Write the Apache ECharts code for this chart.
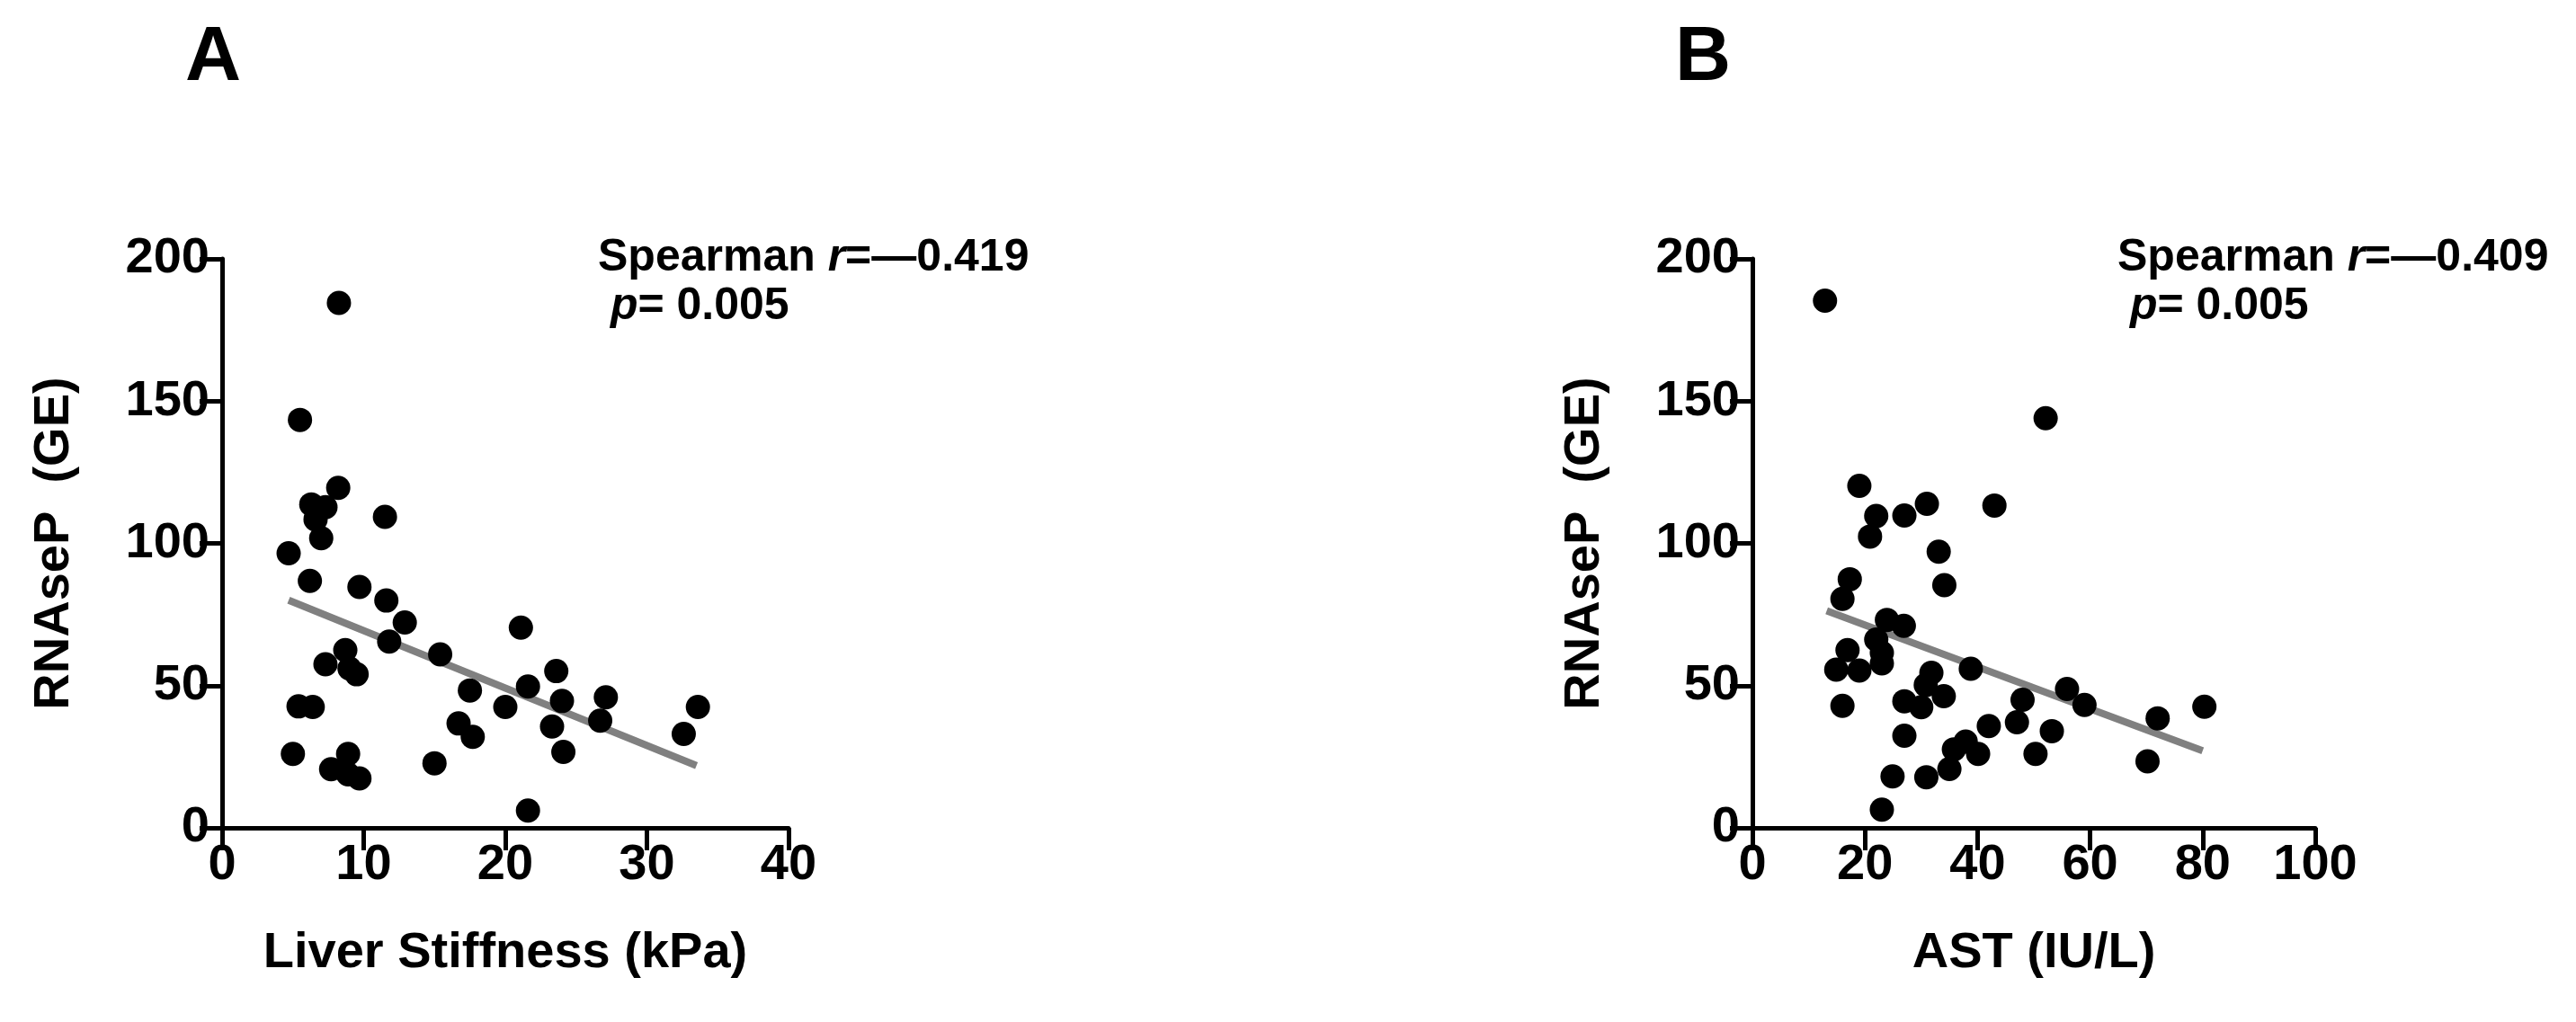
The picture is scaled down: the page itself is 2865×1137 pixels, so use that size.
<!DOCTYPE html>
<html>
<head>
<meta charset="utf-8">
<script src="https://cdn.jsdelivr.net/npm/echarts@6/dist/echarts.min.js"></script>
<style>
  html, body { margin: 0; padding: 0; background: #fff; }
  #main { width: 2865px; height: 1137px; }
</style>
</head>
<body>
<div id="main"></div>
<script>
// panel A: liver stiffness (kPa) vs RNAseP (GE)
var stiffness = [8.25, 5.5, 8.2, 6.3, 7.3, 6.6, 11.5, 7.0, 4.7, 6.2, 9.7, 11.6, 12.9, 11.8, 15.4,
  21.1, 8.7, 7.3, 9.0, 9.5, 23.6, 21.6, 17.5, 20.0, 24.0, 5.4, 6.4, 16.7, 17.7, 23.3,
  24.1, 5.0, 8.9, 7.7, 8.9, 9.7, 15.0, 21.6, 27.1, 26.7, 33.6, 32.6];
var rnaseA = [184.5, 143.4, 119.5, 113.7, 112.7, 108.4, 109.3, 101.8, 96.5, 86.8, 84.7, 79.9, 72.2, 65.5, 61,
  70.4, 62.5, 57.5, 56, 54, 55.1, 49.7, 48.3, 42.5, 44.6, 42.7, 42.5, 36.7, 32, 35.6,
  26.7, 26, 26, 20.6, 18.8, 17.4, 22.7, 6.1, 45.9, 37.7, 42.5, 33];
var fitA_x = [4.7, 33.5];
var fitA_y = [80, 21.9];

// panel B: AST (IU/L) vs RNAseP (GE)
var ast = [12.9, 19.0, 22.0, 20.9, 27.0, 31.0, 33.1, 17.3, 34.1, 16.0, 52.1, 43.0, 23.9, 26.9, 22.0,
  16.9, 23.0, 23.0, 14.9, 19.0, 38.8, 31.8, 30.8, 34.0, 27.0, 30.0, 16.0, 27.0, 24.9, 30.9,
  23.0, 48.0, 55.9, 59.0, 72.0, 80.3, 42.0, 47.0, 53.2, 50.3, 70.2, 37.9, 35.8, 40.1, 35.0];
var rnaseB = [185.3, 120.2, 109.6, 102.4, 109.8, 113.9, 97.1, 87.4, 85.3, 80.5, 144.0, 113.3, 73.1, 71.0, 66.2,
  62.5, 61.5, 57.8, 55.6, 55.3, 55.9, 54.5, 50.2, 46.3, 44.5, 42.4, 42.9, 32.4, 18.1, 17.8,
  6.4, 45.0, 48.8, 43.2, 38.5, 42.6, 35.8, 37.1, 34.0, 26.0, 23.4, 30.3, 27.6, 26.0, 20.7];
var fitB_x = [13.2, 80.0];
var fitB_y = [76.3, 27.1];

var yTicks = [0, 200, 50];
var xTicksA = [0, 40, 10];
var xTicksB = [0, 100, 20];

function pairs(xs, ys) {
  return xs.map(function (x, i) { return [x, ys[i]]; });
}

var font = 'Liberation Sans, Arial, sans-serif';
var axisLine = { show: true, onZero: false, lineStyle: { color: '#000', width: 5 } };
var axisTick = { show: true, inside: false, length: 25, lineStyle: { color: '#000', width: 5 } };
var axisLabel = { color: '#000', fontSize: 56, fontWeight: 'bold', fontFamily: font, margin: 14 };
var nameStyle = { color: '#000', fontSize: 56, fontWeight: 'bold', fontFamily: font };

function xAxis(idx, t, name) {
  return {
    type: 'value', gridIndex: idx, min: t[0], max: t[1], interval: t[2],
    name: name, nameLocation: 'middle', nameGap: 112, nameTextStyle: nameStyle,
    axisLine: axisLine, axisTick: axisTick, axisLabel: axisLabel, splitLine: { show: false }
  };
}
function yAxis(idx) {
  return {
    type: 'value', gridIndex: idx, min: yTicks[0], max: yTicks[1], interval: yTicks[2],
    name: 'RNAseP  (GE)', nameLocation: 'middle', nameGap: 158, nameTextStyle: nameStyle,
    axisLine: axisLine, axisTick: axisTick, axisLabel: axisLabel, splitLine: { show: false }
  };
}
function dots(idx, data) {
  return {
    type: 'scatter', xAxisIndex: idx, yAxisIndex: idx, data: data,
    symbolSize: 27, itemStyle: { color: '#000', opacity: 1 }, z: 3
  };
}
function fit(idx, data) {
  return {
    type: 'line', xAxisIndex: idx, yAxisIndex: idx, data: data,
    symbol: 'none', lineStyle: { color: '#808080', width: 8 }, z: 2
  };
}

var rich = {
  b: { fontSize: 50, fontWeight: 'bold', fontFamily: font, color: '#000', lineHeight: 54 },
  i: { fontSize: 50, fontWeight: 'bold', fontStyle: 'italic', fontFamily: font, color: '#000', lineHeight: 54 }
};
function stat(left, r) {
  return {
    type: 'text', left: left, top: 262,
    style: { text: '{b|Spearman }{i|r}{b|=\u2014' + r + '}\n{b| }{i|p}{b|= 0.005}', rich: rich }
  };
}

var chart = echarts.init(document.getElementById('main'));
chart.setOption({
  backgroundColor: '#fff',
  animation: false,
  grid: [
    { left: 247, top: 288, width: 630, height: 633 },
    { left: 1949, top: 288, width: 626, height: 633 }
  ],
  xAxis: [xAxis(0, xTicksA, 'Liver Stiffness (kPa)'), xAxis(1, xTicksB, 'AST (IU/L)')],
  yAxis: [yAxis(0), yAxis(1)],
  series: [
    fit(0, pairs(fitA_x, fitA_y)),
    dots(0, pairs(stiffness, rnaseA)),
    fit(1, pairs(fitB_x, fitB_y)),
    dots(1, pairs(ast, rnaseB))
  ],
  graphic: [
    { type: 'text', left: 206, top: 22, style: { text: 'A', fontSize: 86, fontWeight: 'bold', fontFamily: font, fill: '#000' } },
    { type: 'text', left: 1863, top: 22, style: { text: 'B', fontSize: 86, fontWeight: 'bold', fontFamily: font, fill: '#000' } },
    stat(665, '0.419'),
    stat(2355, '0.409')
  ]
});
</script>
</body>
</html>
